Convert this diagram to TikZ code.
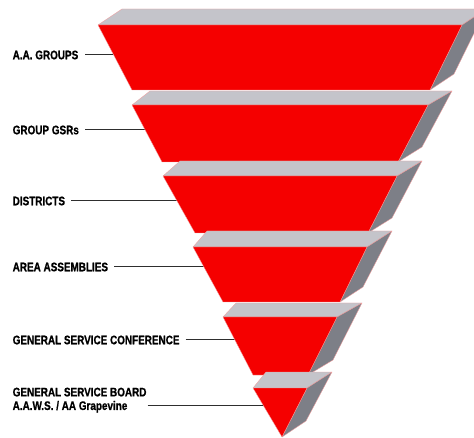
\documentclass[tikz,border=0pt]{standalone}
\usepackage{fontspec}
\newfontfamily\labfont[FakeStretch=0.8, BoldFeatures={FakeBold=0.9}]{Liberation Sans}
\definecolor{frontred}{HTML}{F50000}
\definecolor{topgrey}{HTML}{C4C4CA}
\definecolor{sidegrey}{HTML}{7D7F87}
\definecolor{edgepink}{HTML}{F2A0A0}
\definecolor{linegrey}{HTML}{2E2E2E}
\tikzset{
  lab/.style={anchor=west, inner sep=0pt, font=\labfont\bfseries\fontsize{12.4}{13.6}\selectfont, text=black, align=left},
  leader/.style={draw=linegrey, line width=1pt},
  frontface/.style={fill=frontred, draw=edgepink, line width=0.35pt, line join=round},
  topface/.style={fill=topgrey, draw=edgepink, line width=0.35pt, line join=round},
  sideface/.style={fill=sidegrey, draw=edgepink, line width=0.35pt, line join=round}
}
\begin{document}
\begin{tikzpicture}[x=1pt,y=-1pt]
\useasboundingbox (0,0) rectangle (474,438);
% labels
\node[lab] (l1) at (12.5,55) {A.A. GROUPS};
\node[lab] (l2) at (12.5,130) {GROUP GSRs};
\node[lab] (l3) at (12.5,201) {DISTRICTS};
\node[lab] (l4) at (12.5,267) {AREA ASSEMBLIES};
\node[lab] (l5) at (12.5,340) {GENERAL SERVICE CONFERENCE};
\node[lab, anchor=north west] (l6) at (12.5,387.5) {GENERAL SERVICE BOARD\\A.A.W.S. / AA Grapevine};
% leader ends
\coordinate (e1) at (117,55);
\coordinate (e2) at (149,130);
\coordinate (e3) at (180,201);
\coordinate (e4) at (207,267);
\coordinate (e5) at (238,340);
\coordinate (e6) at (266,405);
\draw[leader] ([xshift=7pt]l1.east) -- (e1);
\draw[leader] ([xshift=6pt]l2.east) -- (e2);
\draw[leader] ([xshift=6pt]l3.east) -- (e3);
\draw[leader] ([xshift=6pt]l4.east) -- (e4);
\draw[leader] ([xshift=6pt]l5.east) -- (e5);
\draw[leader] ([xshift=1pt]e6 -| l6.east) -- (e6);
% layers
\foreach \yb/\yf/\yd/\tl/\tr/\bl/\br/\bkl/\bkr/\sbx/\sby in {
  9/25/90/98/462/132/430/122/486/454/74,
  91/105/162/132/428/162/398/150/452/422/147,
  161/176/233/163/397/195/368/180/422/392/218,
  231/247/302/193/367/223/340/207/392/363/287,
  303/317/375/223/337/253/308/236/362/333/360,
  372/388/437/253/307/282/282/266/332/306/421}{
  \path[topface] (\tl,\yf) -- (\bkl,\yb) -- (\bkr,\yb) -- (\tr,\yf) -- cycle;
  \path[sideface] (\tr,\yf) -- (\bkr,\yb) -- (\sbx,\sby) -- (\br,\yd) -- cycle;
  \path[frontface] (\tl,\yf) -- (\tr,\yf) -- (\br,\yd) -- (\bl,\yd) -- cycle;
}
\end{tikzpicture}
\end{document}
